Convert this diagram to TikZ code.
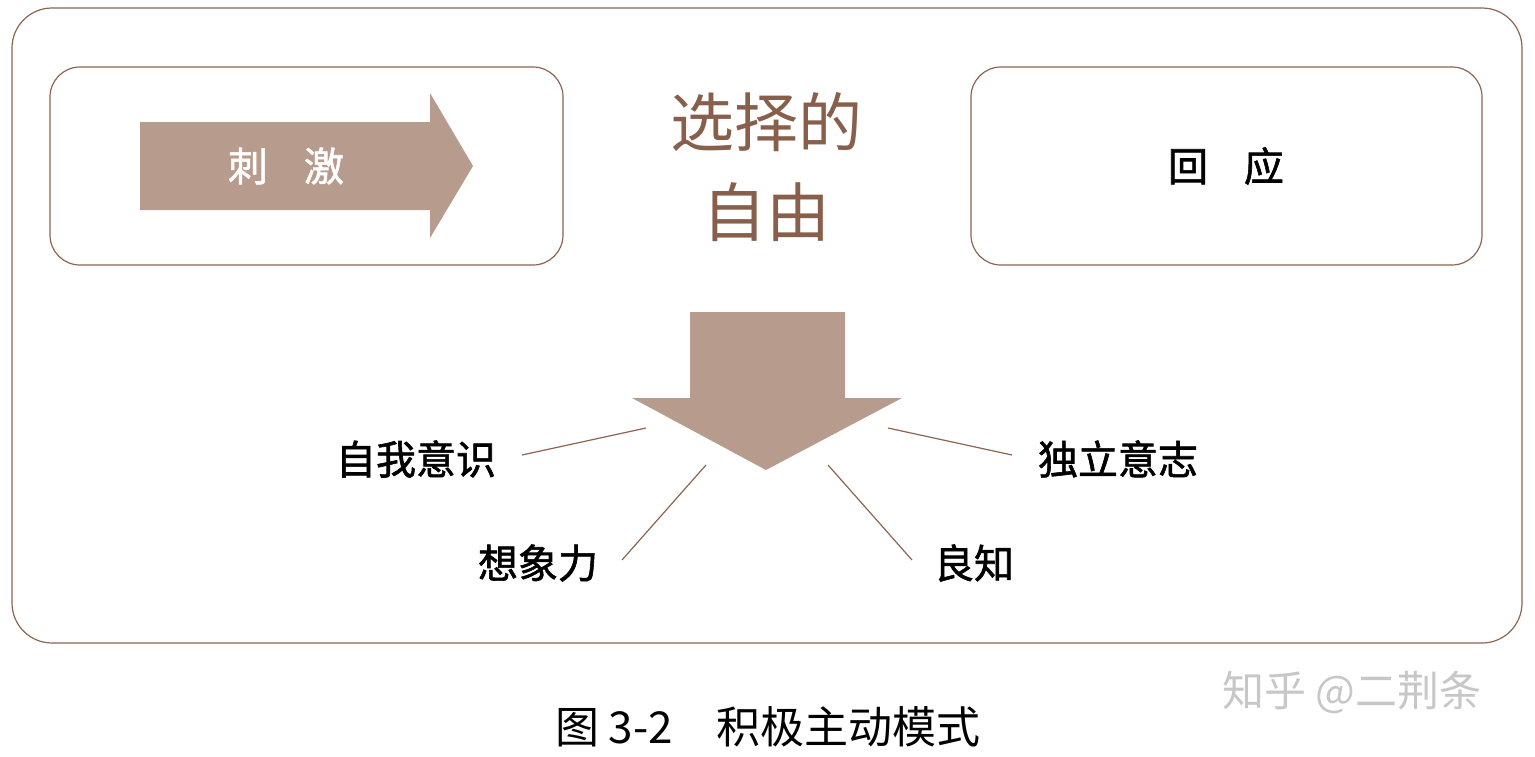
\documentclass[tikz,border=0pt]{standalone}
\usepackage{fontspec}
\setmainfont{Noto Sans CJK SC}
\newfontfamily\medf[FakeBold=1.5]{Noto Sans CJK SC}
\definecolor{brn}{RGB}{140,100,80}
\definecolor{arw}{RGB}{183,155,141}
\definecolor{ttl}{RGB}{135,95,75}
\begin{document}
\begin{tikzpicture}[x=1pt,y=-1pt,
  box/.style={draw=brn,line width=1.2pt,rounded corners=30pt},
  lbl/.style={font=\medf\fontsize{40}{44}\selectfont,inner sep=0pt},
  ln/.style={draw=brn,line width=1.2pt}]
\useasboundingbox (0,0) rectangle (1535,756);
\draw[box,rounded corners=40pt] (12,8) rectangle (1522,643);
\draw[box] (50,67) rectangle (563,265);
\draw[box] (971,67) rectangle (1482,265);
\fill[arw] (140,122) -- (430,122) -- (430,93) -- (473,166) -- (430,238) -- (430,210) -- (140,210) -- cycle;
\node[lbl,white] (ci) at (286,166) {刺\hspace{0.9em}激};
\node[lbl] (hy) at (1226,166) {回\hspace{0.9em}应};
\node[lbl,text=ttl,font=\fontsize{64}{68}\selectfont] (xz) at (766,122) {选择的};
\node[lbl,text=ttl,font=\fontsize{64}{68}\selectfont] (zy) at (766,212) {自由};
\fill[arw] (690,312) -- (845,312) -- (845,398) -- (902,398) -- (766,470) -- (632,398) -- (690,398) -- cycle;
\node[lbl] (a) at (416,459) {自我意识};
\node[lbl] (b) at (538,563) {想象力};
\node[lbl] (c) at (974,563) {良知};
\node[lbl] (d) at (1118,459) {独立意志};
\coordinate (a1) at (646,428); \coordinate (b1) at (706,465);
\coordinate (c1) at (828,465); \coordinate (d1) at (888,428);
\draw[ln] (522,455) -- (a1);
\draw[ln] (622,560) -- (b1);
\draw[ln] (912,560) -- (c1);
\draw[ln] (1012,455) -- (d1);
\node[lbl,font=\fontsize{44}{48}\selectfont] (cap) at (768,727) {图 3-2\hspace{1em}积极主动模式};
\node[lbl,text=black!22,font=\fontsize{42}{46}\selectfont] (wm) at (1352,692) {知乎 @二荆条};
\end{tikzpicture}
\end{document}
